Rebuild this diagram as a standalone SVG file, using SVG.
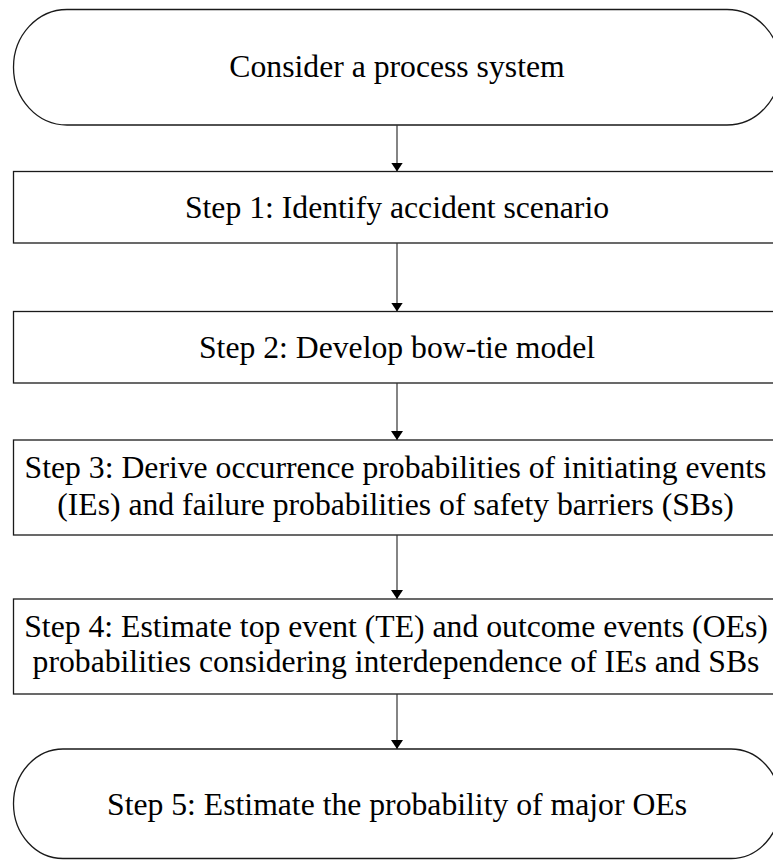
<svg xmlns="http://www.w3.org/2000/svg" width="773" height="860" viewBox="0 0 773 860">
<style>
.box{fill:#fff;stroke:#1a1a1a;stroke-width:1.3}
.t{font-family:"Liberation Serif","Times New Roman",serif;font-size:31.7px;fill:#000;text-anchor:middle}
.c{stroke:#333;stroke-width:1.2;fill:none}
</style>
<defs>
<marker id="ah" markerWidth="9" markerHeight="12" refX="9" refY="6" orient="auto" markerUnits="userSpaceOnUse" viewBox="0 0 9 12">
<path d="M0,0 L9,6 L0,12 Z" fill="#000"/>
</marker>
</defs>
<rect width="773" height="860" fill="#fff"/>
<g id="start">
<path class="box" d="M67,9.5 H727 A53.5,57.75 0 0 1 727,125 H67 A53.5,57.75 0 0 1 67,9.5 Z"/>
<text class="t" x="397" y="77">Consider a process system</text>
</g>
<g id="step1">
<rect class="box" x="13.5" y="171.5" width="767" height="71.5"/>
<text class="t" x="397" y="217.5">Step 1: Identify accident scenario</text>
</g>
<g id="step2">
<rect class="box" x="13.5" y="311.5" width="767" height="71.5"/>
<text class="t" x="397" y="358">Step 2: Develop bow-tie model</text>
</g>
<g id="step3">
<rect class="box" x="13.5" y="440" width="767" height="95"/>
<text class="t" x="395.5" y="477.5">Step 3: Derive occurrence probabilities of initiating events</text>
<text class="t" x="395.5" y="514.5">(IEs) and failure probabilities of safety barriers (SBs)</text>
</g>
<g id="step4">
<rect class="box" x="13.5" y="599" width="767" height="95"/>
<text class="t" x="396" y="637">Step 4: Estimate top event (TE) and outcome events (OEs)</text>
<text class="t" x="396" y="672">probabilities considering interdependence of IEs and SBs</text>
</g>
<g id="step5">
<path class="box" d="M63,749 H731 A49.5,54.75 0 0 1 731,858.5 H63 A49.5,54.75 0 0 1 63,749 Z"/>
<text class="t" x="397" y="815">Step 5: Estimate the probability of major OEs</text>
</g>
<g id="connectors">
<line class="c" x1="397" y1="125" x2="397" y2="171.5" marker-end="url(#ah)"/>
<line class="c" x1="397" y1="243" x2="397" y2="311.5" marker-end="url(#ah)"/>
<line class="c" x1="397" y1="383" x2="397" y2="440" marker-end="url(#ah)"/>
<line class="c" x1="397" y1="535" x2="397" y2="599" marker-end="url(#ah)"/>
<line class="c" x1="397" y1="694" x2="397" y2="749" marker-end="url(#ah)"/>
</g>
</svg>
